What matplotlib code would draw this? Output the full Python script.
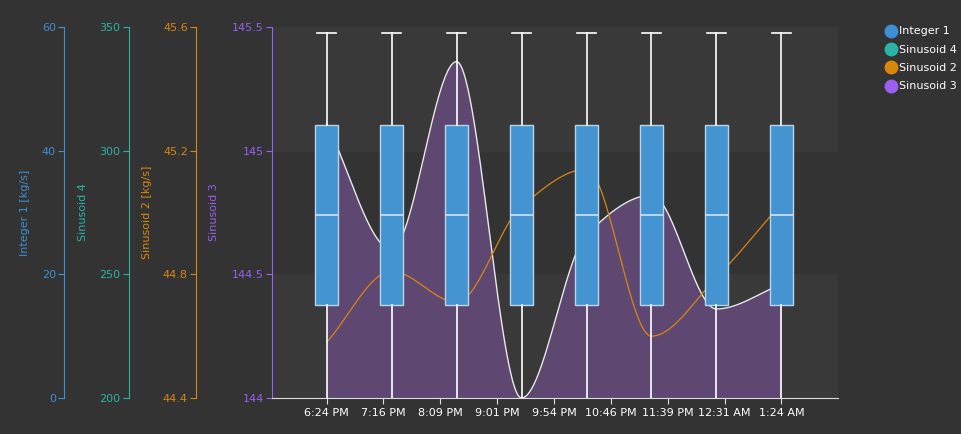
import numpy as np
import matplotlib
matplotlib.use("Agg")
import matplotlib.pyplot as plt
from matplotlib.lines import Line2D

# data
tick_labels = ["6:24 PM", "7:16 PM", "8:09 PM", "9:01 PM", "9:54 PM", "10:46 PM", "11:39 PM", "12:31 AM", "1:24 AM"]
box_hours = [0, 1, 2, 3, 4, 5, 6, 7]
int1_min = [0, 0, 0, 0, 0, 0, 0, 0]
int1_q1 = [15, 15, 15, 15, 15, 15, 15, 15]
int1_med = [29.6, 29.6, 29.6, 29.6, 29.6, 29.6, 29.6, 29.6]
int1_q3 = [44.2, 44.2, 44.2, 44.2, 44.2, 44.2, 44.2, 44.2]
int1_max = [59, 59, 59, 59, 59, 59, 59, 59]
sin3 = [145.11, 144.6, 145.36, 144.0, 144.66, 144.82, 144.36, 144.46]
sin2 = [44.58, 44.81, 44.71, 45.02, 45.14, 44.60, 44.79, 45.03]

BG = "#333333"
C_INT, C_S4, C_S2, C_S3 = "#3d8fd6", "#2bb3a6", "#d9860f", "#9a5ff0"

def monotone(x, y, n=400):
    x = np.asarray(x, float); y = np.asarray(y, float)
    h = np.diff(x); d = np.diff(y) / h
    m = np.zeros_like(y)
    m[0], m[-1] = d[0], d[-1]
    for i in range(1, len(y) - 1):
        if d[i-1] * d[i] <= 0:
            m[i] = 0
        else:
            m[i] = 2 / (1/d[i-1] + 1/d[i])
    xs = np.linspace(x[0], x[-1], n)
    idx = np.clip(np.searchsorted(x, xs) - 1, 0, len(x) - 2)
    t = (xs - x[idx]) / h[idx]
    h00 = 2*t**3 - 3*t**2 + 1; h10 = t**3 - 2*t**2 + t
    h01 = -2*t**3 + 3*t**2; h11 = t**3 - t**2
    ys = h00*y[idx] + h10*h[idx]*m[idx] + h01*y[idx+1] + h11*h[idx]*m[idx+1]
    return xs, ys

fig = plt.figure(figsize=(9.62, 4.34), dpi=100, facecolor=BG)
ax = fig.add_axes([272/962, 1-398/434, 566/962, 371/434])
ax.set_facecolor(BG)
xmin, xmax = -0.84, 7.87
ax.set_xlim(xmin, xmax)
ax.set_ylim(144, 145.5)
ax.axhspan(145, 145.5, color="#393939", zorder=0)
ax.axhspan(144, 144.5, color="#393939", zorder=0)

xs, ys = monotone(box_hours, sin3)
ax.fill_between(xs, 144, ys, color="#5e4872", zorder=1, lw=0)
ax.plot(xs, ys, color="#e8e8e8", lw=1, zorder=2)

for s in ["top", "right"]:
    ax.spines[s].set_visible(False)
ax.spines["left"].set_color(C_S3)
ax.spines["bottom"].set_color("#dddddd")
ax.tick_params(axis="y", colors=C_S3, labelsize=8, length=4, pad=2)
ax.set_yticks([144, 144.5, 145, 145.5])
ax.set_yticklabels(["144", "144.5", "145", "145.5"])
ax.set_ylabel("Sinusoid 3", color=C_S3, fontsize=8)
ax.yaxis.set_label_coords(-0.094, 0.5)
ax.set_xticks(np.linspace(0, 7, 9))
ax.set_xticklabels(tick_labels, color="white", fontsize=8)
ax.tick_params(axis="x", colors="#dddddd", labelcolor="white", length=4)

def twin(pos, color, ylim, ticks, labels, ylabel, lx):
    t = ax.twinx()
    t.patch.set_visible(False)
    t.set_xlim(xmin, xmax)
    t.spines["right"].set_visible(False)
    t.spines["top"].set_visible(False)
    t.spines["bottom"].set_visible(False)
    t.spines["left"].set_visible(True)
    t.spines["left"].set_position(("axes", pos))
    t.spines["left"].set_color(color)
    t.yaxis.set_ticks_position("left")
    t.yaxis.set_label_position("left")
    t.set_ylim(*ylim)
    t.set_yticks(ticks)
    t.set_yticklabels(labels)
    t.tick_params(axis="y", colors=color, labelsize=8, length=4, pad=2)
    t.set_ylabel(ylabel, color=color, fontsize=8)
    t.yaxis.set_label_coords(lx, 0.5)
    return t

a2 = twin(-0.134, C_S2, (44.4, 45.6), [44.4, 44.8, 45.2, 45.6], ["44.4", "44.8", "45.2", "45.6"], "Sinusoid 2 [kg/s]", -0.212)
a4 = twin(-0.253, C_S4, (200, 350), [200, 250, 300, 350], ["200", "250", "300", "350"], "Sinusoid 4", -0.325)
a1 = twin(-0.367, C_INT, (0, 60), [0, 20, 40, 60], ["0", "20", "40", "60"], "Integer 1 [kg/s]", -0.428)

xs2, ys2 = monotone(box_hours, sin2)
a2.plot(xs2, ys2, color=C_S2, lw=0.9, zorder=3)

stats = [dict(whislo=int1_min[i], q1=int1_q1[i], med=int1_med[i], q3=int1_q3[i], whishi=int1_max[i], fliers=[])
         for i in range(len(box_hours))]
bp = a1.bxp(stats, positions=box_hours, widths=0.36, patch_artist=True, showfliers=False,
       boxprops=dict(facecolor="#4394d0", edgecolor="#b8d4ea", lw=1),
       medianprops=dict(color="#cfe3f3", lw=1.2),
       whiskerprops=dict(color="white", lw=1.2),
       capprops=dict(color="white", lw=1.2), capwidths=0.28, manage_ticks=False)
for i, c in enumerate(bp["caps"]):
    if i % 2 == 0:
        c.set_visible(False)
a1.set_zorder(3)
a2.set_zorder(2)
a4.set_zorder(1)
a1.set_xlim(xmin, xmax)

handles = [Line2D([], [], marker="o", ls="", color=c, markersize=9) for c in [C_INT, C_S4, C_S2, C_S3]]
fig.legend(handles, ["Integer 1", "Sinusoid 4", "Sinusoid 2", "Sinusoid 3"], loc="upper left",
           bbox_to_anchor=(880/962, 1-22/434), frameon=False, labelcolor="white", fontsize=8,
           handletextpad=0.1, borderaxespad=0, labelspacing=0.75, handlelength=1.2)
fig.savefig("out.png", dpi=100, facecolor=BG)
